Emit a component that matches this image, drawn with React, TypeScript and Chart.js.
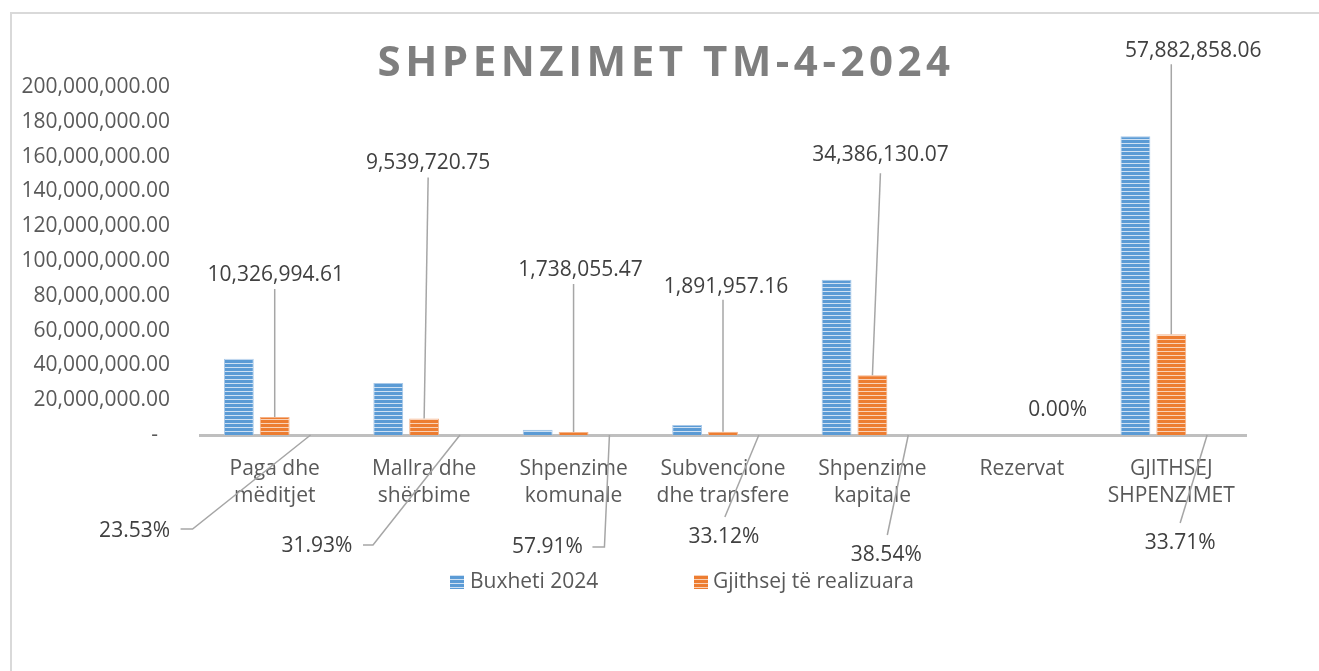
import React, { useEffect, useRef } from "react";
import { Chart, registerables } from "chart.js";

Chart.register(...registerables);

// ---- data ----
const categories: string[][] = [
  ["Paga dhe", "mëditjet"],
  ["Mallra dhe", "shërbime"],
  ["Shpenzime", "komunale"],
  ["Subvencione", "dhe transfere"],
  ["Shpenzime", "kapitale"],
  ["Rezervat"],
  ["GJITHSEJ", "SHPENZIMET"],
];
const budget2024 = [43888600, 29877000, 3001300, 5712400, 89222000, 0, 171708000];
const realized = [10326994.61, 9539720.75, 1738055.47, 1891957.16, 34386130.07, 0, 57882858.06];
const realizedShare = [0.2353, 0.3193, 0.5791, 0.3312, 0.3854, 0, 0.3371];
const seriesNames = ["Buxheti 2024", "Gjithsej të realizuara"];
const titleText = "SHPENZIMET TM-4-2024";
const yMax = 200000000;
const yStep = 20000000;

// ---- styling / label placement ----
const FONT = "'Open Sans', 'Noto Sans', sans-serif";
const valueLabelPos = [
  { tx: 1, ty: -142, lx: 0, ly: -128 },
  { tx: 4, ty: -255, lx: 4, ly: -241 },
  { tx: 7, ty: -162, lx: 0, ly: -148 },
  { tx: 3, ty: -145, lx: 0, ly: -132 },
  { tx: 8, ty: -220, lx: 8, ly: -202 },
  null,
  { tx: 22, ty: -283, lx: 0, ly: -270 },
];
const shareLabelPos: { tx: number; ty: number; line: number[][] }[] = [
  { tx: -176, ty: 96, line: [[-118, 94], [-130, 94]] },
  { tx: -143, ty: 111, line: [[-87, 110], [-97, 110]] },
  { tx: -62, ty: 112, line: [[-5, 112], [-17, 112]] },
  { tx: -35, ty: 102, line: [[-34, 82]] },
  { tx: -22, ty: 120, line: [[-21, 100]] },
  { tx: 0, ty: -25, line: [] },
  { tx: -27, ty: 108, line: [[-27, 88]] },
];

function stripes(base: string, light: string): CanvasPattern {
  const c = document.createElement("canvas");
  c.width = 4;
  c.height = 4;
  const g = c.getContext("2d")!;
  g.fillStyle = base;
  g.fillRect(0, 0, 4, 4);
  g.fillStyle = light;
  g.fillRect(0, 3, 4, 1);
  return g.createPattern(c, "repeat")!;
}

const fmtMoney = (v: number) =>
  v.toLocaleString("en-US", { minimumFractionDigits: 2, maximumFractionDigits: 2 });

export default function App() {
  const ref = useRef<HTMLCanvasElement>(null);

  useEffect(() => {
    const canvas = ref.current!;
    const bluePat = stripes("#5b9bd5", "#cfe1f3");
    const orangePat = stripes("#ed7d31", "#f9d2b8");

    const decor = {
      id: "decor",
      beforeDraw(chart: any) {
        const ctx = chart.ctx as CanvasRenderingContext2D;
        ctx.save();
        ctx.fillStyle = "#ffffff";
        ctx.fillRect(0, 0, chart.width, chart.height);
        ctx.strokeStyle = "#d9d9d9";
        ctx.lineWidth = 2;
        ctx.beginPath();
        ctx.moveTo(11, chart.height);
        ctx.lineTo(11, 13);
        ctx.lineTo(chart.width, 13);
        ctx.stroke();
        ctx.restore();
      },
      afterDraw(chart: any) {
        const ctx = chart.ctx as CanvasRenderingContext2D;
        ctx.save();
        // title
        ctx.fillStyle = "#7f7f7f";
        ctx.font = `bold 42px ${FONT}`;
        (ctx as any).letterSpacing = "4.5px";
        ctx.textAlign = "center";
        ctx.textBaseline = "middle";
        ctx.fillText(titleText, 666, 64);
        (ctx as any).letterSpacing = "0px";

        // value labels (orange series)
        const metaV = chart.getDatasetMeta(1);
        const metaS = chart.getDatasetMeta(2);
        ctx.font = `21px ${FONT}`;
        ctx.strokeStyle = "#a6a6a6";
        ctx.lineWidth = 1.5;
        metaV.data.forEach((el: any, i: number) => {
          const p = valueLabelPos[i];
          if (!p || !realized[i]) return;
          ctx.beginPath();
          ctx.moveTo(el.x, el.y);
          ctx.lineTo(el.x + p.lx, el.y + p.ly);
          ctx.stroke();
          ctx.fillStyle = "#404040";
          ctx.fillText(fmtMoney(realized[i]), el.x + p.tx, el.y + p.ty);
        });
        // share labels
        metaS.data.forEach((el: any, i: number) => {
          const p = shareLabelPos[i];
          if (p.line.length) {
            ctx.beginPath();
            ctx.moveTo(el.x, el.y);
            p.line.forEach(([dx, dy]) => ctx.lineTo(el.x + dx, el.y + dy));
            ctx.stroke();
          }
          ctx.fillStyle = "#404040";
          ctx.fillText((realizedShare[i] * 100).toFixed(2) + "%", el.x + p.tx, el.y + p.ty);
        });

        // legend
        ctx.textAlign = "left";
        ctx.fillStyle = bluePat;
        ctx.fillRect(450, 575, 14, 14);
        ctx.fillStyle = orangePat;
        ctx.fillRect(694, 575, 14, 14);
        ctx.fillStyle = "#595959";
        ctx.fillText(seriesNames[0], 470, 582);
        ctx.fillText(seriesNames[1], 713, 582);
        ctx.restore();
      },
    };

    const chart = new Chart(canvas, {
      type: "bar",
      data: {
        labels: categories,
        datasets: [
          {
            label: seriesNames[0],
            data: budget2024,
            backgroundColor: bluePat,
            borderColor: "#a9c9e9",
            borderWidth: 1,
          },
          {
            label: seriesNames[1],
            data: realized,
            backgroundColor: orangePat,
            borderColor: "#f5b287",
            borderWidth: 1,
          },
          {
            label: "share",
            data: realizedShare,
            backgroundColor: "rgba(0,0,0,0)",
            borderWidth: 0,
          },
        ],
      },
      plugins: [decor],
      options: {
        responsive: false,
        animation: false,
        devicePixelRatio: 1,
        layout: { padding: { top: 87, right: 73, bottom: 156, left: 0 } },
        datasets: { bar: { categoryPercentage: 0.72, barPercentage: 0.833 } },
        plugins: {
          legend: { display: false },
          title: { display: false },
          tooltip: { enabled: false },
        },
        scales: {
          x: {
            grid: { display: false, drawTicks: false },
            border: { display: true, color: "#bfbfbf", width: 3 },
            ticks: {
              color: "#595959",
              font: { family: FONT, size: 21, lineHeight: 1.3 },
              padding: 20,
              maxRotation: 0,
              autoSkip: false,
            },
            afterFit: (s: any) => {
              s.height = 80;
            },
          },
          y: {
            min: 0,
            max: yMax,
            grid: { display: false, drawTicks: false },
            border: { display: false },
            ticks: {
              stepSize: yStep,
              color: "#595959",
              font: { family: FONT, size: 21 },
              padding: 30,
              callback: (v: any) => (Number(v) === 0 ? "-\u2007" : fmtMoney(Number(v))),
            },
            afterFit: (s: any) => {
              s.width = 200;
            },
          },
        },
      },
    });
    return () => chart.destroy();
  }, []);

  return (
    <canvas
      ref={ref}
      width={1319}
      height={671}
      style={{ position: "fixed", left: 0, top: 0, width: 1319, height: 671, background: "#fff" }}
    />
  );
}
